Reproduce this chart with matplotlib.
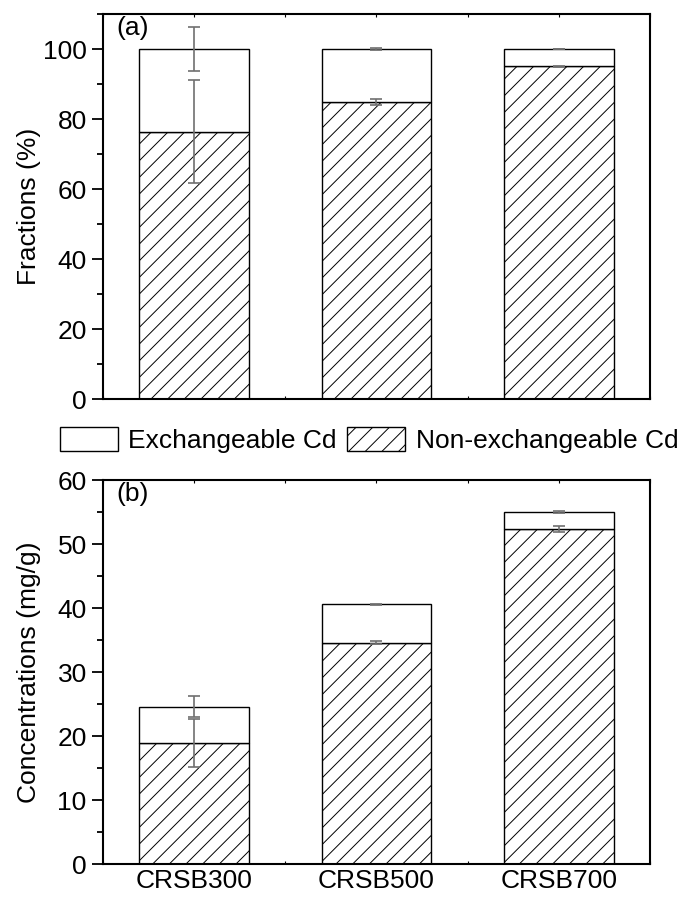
import numpy as np
import matplotlib.pyplot as plt
from matplotlib.ticker import MultipleLocator
from matplotlib.patches import Patch

plt.rcParams['font.family'] = ['Liberation Sans', 'DejaVu Sans']
plt.rcParams['font.size'] = 19
plt.rcParams['hatch.linewidth'] = 0.7

samples = ["CRSB300", "CRSB500", "CRSB700"]

# (a) fractions, %
frac_nonex = [76.4, 84.9, 95.1]
frac_nonex_err = [14.8, 0.8, 0.1]
frac_total = [100.0, 100.0, 100.0]
frac_total_err = [6.4, 0.2, 0.1]

# (b) concentrations, mg/g
conc_nonex = [18.9, 34.6, 52.3]
conc_nonex_err = [3.7, 0.3, 0.45]
conc_total = [24.6, 40.6, 55.0]
conc_total_err = [1.6, 0.1, 0.1]

x = np.arange(len(samples))
w = 0.6

fig = plt.figure(figsize=(6.94, 9.05), dpi=100)
ax1 = fig.add_axes([0.148, 0.559, 0.789, 0.4255])
ax2 = fig.add_axes([0.148, 0.0453, 0.789, 0.4243])


def draw_panel(ax, nonex, nonex_err, total, total_err):
    exch = np.array(total) - np.array(nonex)
    ax.bar(x, nonex, w, color='white', edgecolor='black', hatch='//', linewidth=1.0, zorder=2)
    ax.bar(x, exch, w, bottom=nonex, color='white', edgecolor='black', linewidth=1.0, zorder=2)
    ax.errorbar(x, nonex, yerr=nonex_err, fmt='none', ecolor='#707070', elinewidth=1.2,
                capsize=4.5, capthick=1.2, zorder=3)
    ax.errorbar(x, total, yerr=total_err, fmt='none', ecolor='#707070', elinewidth=1.2,
                capsize=4.5, capthick=1.2, zorder=3)
    ax.set_xlim(-0.5, 2.5)
    ax.set_xticks(x)
    ax.xaxis.set_minor_locator(MultipleLocator(0.5))
    ax.tick_params(axis='x', which='both', direction='in', length=2, top=True, width=0.8)
    ax.tick_params(axis='y', which='major', direction='out', length=8, width=1.3)
    ax.tick_params(axis='y', which='minor', direction='out', length=4, width=1.3)
    for s in ax.spines.values():
        s.set_linewidth(1.5)


draw_panel(ax1, frac_nonex, frac_nonex_err, frac_total, frac_total_err)
ax1.set_ylim(0, 110)
ax1.yaxis.set_major_locator(MultipleLocator(20))
ax1.yaxis.set_minor_locator(MultipleLocator(10))
ax1.set_xticklabels([])
ax1.set_ylabel("Fractions (%)")
ax1.text(0.025, 0.995, "(a)", transform=ax1.transAxes, va='top', ha='left')

draw_panel(ax2, conc_nonex, conc_nonex_err, conc_total, conc_total_err)
ax2.set_ylim(0, 60)
ax2.yaxis.set_major_locator(MultipleLocator(10))
ax2.yaxis.set_minor_locator(MultipleLocator(5))
ax2.set_xticklabels(samples)
ax2.set_ylabel("Concentrations (mg/g)")
ax2.text(0.025, 0.995, "(b)", transform=ax2.transAxes, va='top', ha='left')

# keep both y labels on the same vertical line
for ax in (ax1, ax2):
    ax.yaxis.set_label_coords(-0.112, 0.5)

handles = [Patch(facecolor='white', edgecolor='black', linewidth=1.0),
           Patch(facecolor='white', edgecolor='black', hatch='//', linewidth=1.0)]
fig.legend(handles, ["Exchangeable Cd", "Non-exchangeable Cd"], loc='center',
           bbox_to_anchor=(0.532, 0.514), ncol=2, frameon=False,
           handlelength=2.2, handleheight=1.05, handletextpad=0.38, columnspacing=0.4,
           borderpad=0.1)

fig.savefig("out.png", dpi=100)
